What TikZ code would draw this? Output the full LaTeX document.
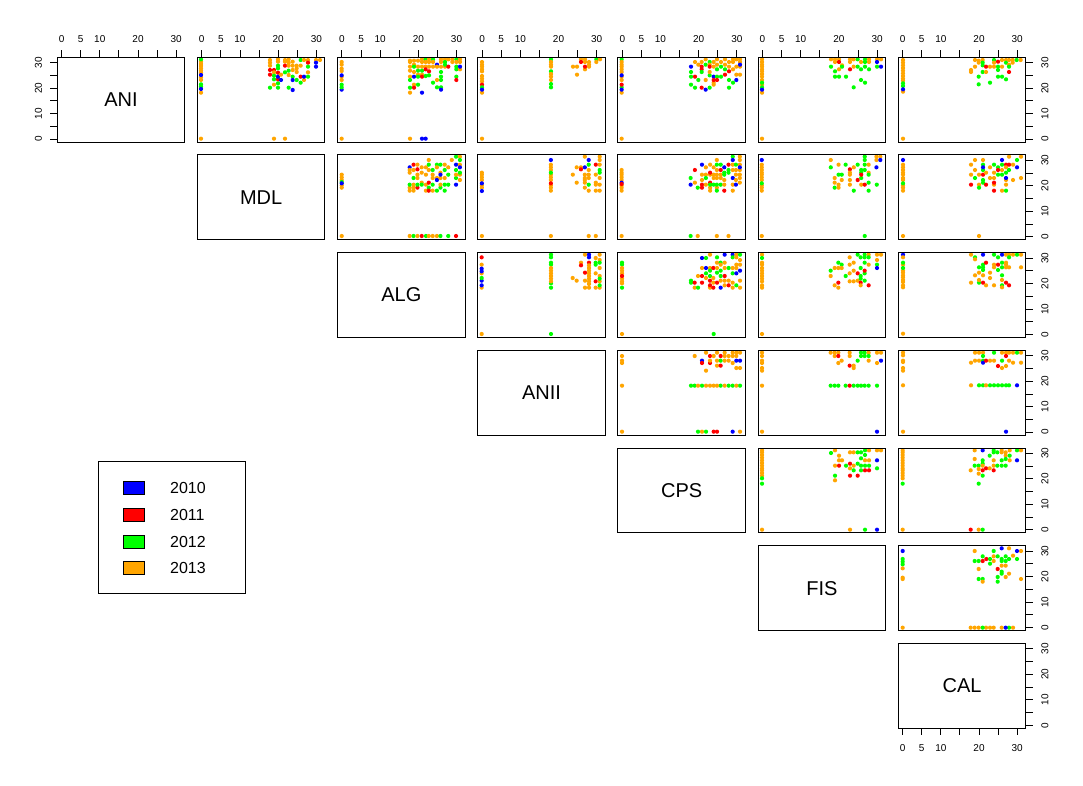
\documentclass[tikz,border=0pt]{standalone}
\usepackage{fontspec}
\setmainfont{Liberation Sans}
\definecolor{cB}{RGB}{0,0,255}
\definecolor{cR}{RGB}{255,0,0}
\definecolor{cG}{RGB}{0,255,0}
\definecolor{cO}{RGB}{255,165,0}
\newcommand\vc[3]{\foreach \yy in {#3}{\fill[#1] (#2,\yy) circle[radius=2.1pt];}}
\newcommand\hr[3]{\foreach \xx in {#3}{\fill[#1] (\xx,#2) circle[radius=2.1pt];}}
\tikzset{
  axl/.style={line width=0.9pt},
  panelbox/.style={draw=black,line width=1pt},
  tick/.style={inner sep=0pt,font=\fontsize{10}{12}\selectfont},
  plabel/.style={inner sep=0pt,font=\fontsize{20}{24}\selectfont},
  legtext/.style={inner sep=0pt,anchor=west,font=\fontsize{16}{19}\selectfont},
  swatch/.style={draw=black,line width=0.8pt},
  zoomsc/.style={x=0.333333pt,y=-0.333333pt}
}
\begin{document}
\begin{tikzpicture}[x=1pt,y=-1pt]
\useasboundingbox (0,0) rectangle (1083,786);
\fill[white] (0,0) rectangle (1083,786);

% ---------- points: row 1, col 2 ----------
\begin{scope}[shift={(190,50)},zoomsc]
\vc{cO}{33}{35,42,48,55,62,68,82,90,128,266}
\vc{cG}{33}{28,103,110}
\vc{cB}{33}{75,117}
\hr{cO}{266}{252,285}
\vc{cO}{240}{30,38,47} \vc{cR}{240}{60,74} \vc{cG}{240}{113}
\vc{cR}{252}{60} \vc{cO}{252}{67,104} \vc{cG}{252}{77,88}
\vc{cO}{264}{28,35} \vc{cG}{264}{47,55,100,113} \vc{cR}{264}{68,88} \vc{cB}{264}{80}
\vc{cO}{273}{74} \vc{cB}{273}{90}
\vc{cO}{285}{30,35} \vc{cR}{285}{47} \vc{cG}{285}{67}
\vc{cO}{296}{28,38,47,75} \vc{cG}{296}{62,113}
\vc{cO}{308}{35,47,60} \vc{cG}{308}{80} \vc{cB}{308}{90,120}
\vc{cO}{320}{47,55,66} \vc{cG}{320}{90}
\vc{cG}{332}{30,98} \vc{cO}{332}{47} \vc{cR}{332}{80}
\vc{cO}{342}{30,90} \vc{cB}{342}{80}
\vc{cO}{354}{30,67} \vc{cR}{354}{38} \vc{cG}{354}{50,80}
\vc{cO}{378}{30} \vc{cB}{378}{38,50} \vc{cO}{390}{30}
\end{scope}

% ---------- row 1, cols 3-5 ----------
\begin{scope}[shift={(335,52)},zoomsc]
\vc{cO}{20}{30,38,50,57,74,84,260} \vc{cB}{20}{70,113} \vc{cG}{20}{98,106}
\vc{cO}{225}{26,30,44,56,74,122,260} \vc{cG}{225}{84,107}
\vc{cO}{237}{26,38,60,98} \vc{cG}{237}{44} \vc{cB}{237}{74} \vc{cR}{237}{107}
\vc{cO}{249}{26,44,68} \vc{cG}{249}{56,74,98}
\vc{cO}{261}{22,30,44,68} \vc{cG}{261}{56} \vc{cR}{261}{74} \vc{cB}{261}{122,260}
\vc{cG}{272}{22,72} \vc{cO}{272}{30,44} \vc{cR}{272}{52} \vc{cB}{272}{260}
\vc{cO}{282}{22,30,44} \vc{cR}{282}{58} \vc{cG}{282}{70}
\vc{cG}{294}{22,92} \vc{cO}{294}{30,44}
\vc{cB}{306}{38} \vc{cO}{306}{44,84} \vc{cG}{306}{106}
\vc{cO}{318}{22,30,44} \vc{cG}{318}{60,74,84,106} \vc{cB}{318}{113}
\vc{cO}{330}{22,44} \vc{cG}{330}{30,38}
\vc{cO}{340}{22} \vc{cR}{340}{44}
\vc{cO}{352}{22,30}
\vc{cG}{364}{22,44,52,74} \vc{cO}{364}{30} \vc{cR}{364}{84}
\vc{cO}{375}{22,30,52} \vc{cB}{375}{44}
% col 4
\vc{cO}{441}{30,38,44,52,58,72,80,88,122,260} \vc{cR}{441}{98} \vc{cG}{441}{106} \vc{cB}{441}{113}
\vc{cG}{648}{22,58,96,106} \vc{cO}{648}{30,38,44,66,74,84}
\vc{cO}{714}{44} \vc{cO}{726}{44,68} \vc{cO}{738}{22} \vc{cR}{738}{30}
\vc{cO}{750}{22,30,52} \vc{cR}{750}{44} \vc{cO}{762}{30,38,44}
\vc{cG}{784}{22} \vc{cO}{784}{30} \vc{cO}{795}{22}
% col 5
\vc{cG}{860}{22,106} \vc{cO}{860}{30,38,44,52,60,74,84,122,260} \vc{cB}{860}{70,113} \vc{cR}{860}{98}
\vc{cB}{1068}{44} \vc{cG}{1068}{60,74,98}
\vc{cO}{1080}{30} \vc{cR}{1080}{74} \vc{cG}{1080}{107}
\vc{cO}{1090}{38} \vc{cG}{1090}{84}
\vc{cO}{1100}{30} \vc{cR}{1100}{44,52,107} \vc{cG}{1100}{60}
\vc{cO}{1112}{22,84} \vc{cG}{1112}{38} \vc{cB}{1112}{113}
\vc{cG}{1124}{30,70,107} \vc{cO}{1124}{38,60} \vc{cR}{1124}{44}
\vc{cO}{1136}{30,44,92,98} \vc{cB}{1136}{74} \vc{cR}{1136}{84}
\vc{cO}{1146}{22,38} \vc{cG}{1146}{52,74} \vc{cR}{1146}{84}
\vc{cO}{1158}{30} \vc{cG}{1158}{44,74}
\vc{cO}{1170}{22,38} \vc{cG}{1170}{52} \vc{cR}{1170}{68}
\vc{cO}{1182}{30,44} \vc{cR}{1182}{58} \vc{cG}{1182}{84,107}
\vc{cO}{1194}{22,30,52} \vc{cG}{1194}{92}
\vc{cO}{1204}{22,44,68} \vc{cB}{1204}{84}
\vc{cO}{1215}{22,30,44,68} \vc{cB}{1215}{38}
\end{scope}

% ---------- row 1, col 6 ----------
\begin{scope}[shift={(755,52)},zoomsc]
\vc{cO}{21}{22,30,38,44,52,58,66,74,84,98,122,260} \vc{cG}{21}{92,106} \vc{cB}{21}{113}
\vc{cO}{228}{22} \vc{cG}{228}{44}
\vc{cO}{240}{22,30} \vc{cG}{240}{58,74}
\vc{cO}{252}{22,52} \vc{cR}{252}{30} \vc{cG}{252}{74}
\vc{cO}{261}{40} \vc{cG}{261}{44}
\vc{cG}{273}{74}
\vc{cO}{285}{22,30} \vc{cR}{285}{52}
\vc{cO}{296}{22,44} \vc{cG}{296}{106}
\vc{cG}{308}{22,44}
\vc{cO}{318}{30} \vc{cG}{318}{52,84}
\vc{cG}{330}{22,30,44,92}
\vc{cO}{342}{22,30} \vc{cG}{342}{52}
\vc{cO}{366}{22} \vc{cB}{366}{30} \vc{cG}{366}{44}
\vc{cO}{378}{22} \vc{cB}{378}{44}
\end{scope}

% ---------- row 1, col 7 ----------
\begin{scope}[shift={(880,30)},zoomsc]
\vc{cO}{69}{90,98,106,114,122,130,138,146,152,185,326} \vc{cG}{69}{160,168} \vc{cB}{69}{178}
\vc{cO}{273}{120,126}
\vc{cO}{285}{90,110}
\vc{cO}{296}{92,98} \vc{cG}{296}{140,163}
\vc{cO}{308}{90} \vc{cG}{308}{98,106,126}
\vc{cR}{318}{110} \vc{cO}{318}{126}
\vc{cO}{330}{110} \vc{cG}{330}{158}
\vc{cG}{342}{90} \vc{cO}{342}{98,110}
\vc{cR}{354}{95} \vc{cG}{354}{110,120,140}
\vc{cO}{366}{90,110} \vc{cG}{366}{140}
\vc{cO}{378}{90} \vc{cG}{378}{98,148}
\vc{cO}{387}{90,104} \vc{cG}{387}{110} \vc{cR}{387}{126}
\vc{cO}{398}{90,98}
\vc{cG}{410}{90} \vc{cO}{422}{90}
\end{scope}

% ---------- row 2, cols 3-6 ----------
\begin{scope}[shift={(335,150)},x=0.35386pt,y=-0.333333pt]
\vc{cO}{19}{74,82,90,106,113,258} \vc{cG}{19}{96} \vc{cB}{19}{100}
\vc{cB}{211}{52} \vc{cO}{211}{60,68,113,122,258} \vc{cG}{211}{104}
\vc{cR}{222}{44} \vc{cO}{222}{60,104,113,122} \vc{cG}{222}{84,258}
\vc{cO}{233}{44,74,84,258} \vc{cR}{233}{58,113} \vc{cG}{233}{104}
\vc{cO}{245}{52,68,98} \vc{cG}{245}{104} \vc{cR}{245}{258}
\vc{cO}{257}{52,74,104,122} \vc{cG}{257}{258}
\vc{cO}{265}{30,60,258} \vc{cG}{265}{44,113} \vc{cR}{265}{98,122}
\vc{cG}{276}{60,104} \vc{cO}{276}{74,84,122,258}
\vc{cG}{288}{44,122} \vc{cO}{288}{52,84,258} \vc{cB}{288}{90}
\vc{cG}{298}{44,113,258} \vc{cO}{298}{68,84,104} \vc{cB}{298}{74}
\vc{cO}{310}{44,84} \vc{cG}{310}{60,104,122}
\vc{cO}{320}{52} \vc{cG}{320}{74,104,258}
\vc{cO}{330}{30}
\vc{cG}{342}{20,60,84} \vc{cB}{342}{44,104} \vc{cO}{342}{74} \vc{cR}{342}{258}
\vc{cO}{353}{20,44,74,90} \vc{cG}{353}{30,68} \vc{cB}{353}{52}
% col 4
\vc{cO}{415}{68,74,82,90,106,113,258} \vc{cB}{415}{100,123}
\vc{cB}{610}{30} \vc{cO}{610}{44,52,60,74,82,90,106,113,122,258} \vc{cG}{610}{68} \vc{cR}{610}{100}
\vc{cO}{672}{74}
\vc{cO}{683}{52,98}
\vc{cO}{695}{52} \vc{cR}{695}{58}
\vc{cO}{706}{20,74,84,90,98,113} \vc{cB}{706}{52}
\vc{cB}{717}{30} \vc{cG}{717}{44,104} \vc{cO}{717}{60,74,84,122,258}
\vc{cR}{737}{44} \vc{cO}{737}{74,98,104,122,258}
\vc{cO}{748}{20,30,44,84,104,122} \vc{cG}{748}{60,68}
% col 5
\vc{cO}{810}{60,68,74,82,90,106,113,122,258} \vc{cB}{810}{98} \vc{cR}{810}{102}
\vc{cG}{1005}{84,258} \vc{cB}{1005}{104}
\vc{cR}{1017}{60} \vc{cO}{1017}{98}
\vc{cG}{1025}{113} \vc{cO}{1025}{258}
\vc{cB}{1037}{44} \vc{cO}{1037}{74,90} \vc{cR}{1037}{104,113}
\vc{cO}{1048}{52,74,104} \vc{cG}{1048}{84}
\vc{cO}{1060}{44,74,113,122} \vc{cR}{1060}{68,98} \vc{cG}{1060}{104}
\vc{cO}{1070}{52,74,84} \vc{cG}{1070}{104}
\vc{cO}{1079}{30,60,74,84,113,258} \vc{cG}{1079}{44,104,122}
\vc{cG}{1090}{44,104} \vc{cR}{1090}{60} \vc{cO}{1090}{74,84}
\vc{cB}{1100}{52} \vc{cG}{1100}{68,74} \vc{cO}{1100}{90,104} \vc{cR}{1100}{122}
\vc{cR}{1112}{44} \vc{cG}{1112}{60,68} \vc{cO}{1112}{258}
\vc{cG}{1124}{20} \vc{cB}{1124}{30,84} \vc{cO}{1124}{44,60,104,122}
\vc{cG}{1133}{44} \vc{cO}{1133}{60,74,90} \vc{cB}{1133}{104}
\vc{cO}{1144}{20,30,44,60,74,84,98} \vc{cB}{1144}{52}
% col 6
\vc{cB}{1206}{30} \vc{cO}{1206}{44,52,60,68,74,82,90,106,113,122,258} \vc{cG}{1206}{100}
\vc{cO}{1401}{30} \vc{cG}{1401}{52}
\vc{cO}{1412}{84,98} \vc{cG}{1412}{113}
\vc{cO}{1423}{44,104,113} \vc{cG}{1423}{74}
\vc{cG}{1432}{74} \vc{cO}{1432}{90}
\vc{cG}{1443}{44}
\vc{cR}{1455}{58} \vc{cO}{1455}{68,74,90,104}
\vc{cO}{1466}{52} \vc{cG}{1466}{122}
\vc{cG}{1477}{44} \vc{cR}{1477}{90}
\vc{cG}{1487}{60,68,84} \vc{cR}{1487}{74} \vc{cO}{1487}{104}
\vc{cG}{1497}{20,30,44,60,258} \vc{cR}{1497}{104}
\vc{cO}{1508}{44,68} \vc{cG}{1508}{74,98,122}
\vc{cO}{1530}{20,30} \vc{cB}{1530}{52} \vc{cG}{1531}{104}
\vc{cO}{1541}{20} \vc{cB}{1541}{30}
\end{scope}

% ---------- col 7, rows 2-4 ----------
\begin{scope}[shift={(895,150)},zoomsc]
\vc{cB}{24}{30} \vc{cO}{24}{44,52,60,68,74,84,90,106,113,122,258} \vc{cG}{24}{100}
\vc{cO}{228}{44,74} \vc{cR}{228}{104}
\vc{cO}{240}{30,60} \vc{cG}{240}{84}
\vc{cO}{252}{74,104,258} \vc{cG}{252}{113}
\vc{cO}{264}{30} \vc{cG}{264}{44,60,90,98} \vc{cB}{264}{52} \vc{cR}{264}{74}
\vc{cO}{273}{68} \vc{cR}{273}{104}
\vc{cO}{285}{52,84}
\vc{cG}{297}{44} \vc{cO}{297}{68,84,104} \vc{cR}{297}{98,122}
\vc{cG}{309}{52,74} \vc{cR}{309}{60}
\vc{cB}{321}{30} \vc{cG}{321}{44,74} \vc{cO}{321}{60,122}
\vc{cR}{333}{44} \vc{cO}{333}{52,90,104} \vc{cG}{333}{68,122} \vc{cB}{333}{84}
\vc{cO}{342}{20} \vc{cR}{342}{44} \vc{cG}{342}{60}
\vc{cO}{354}{44,90}
\vc{cG}{366}{30} \vc{cB}{366}{52}
\vc{cO}{378}{20,84}
% row 3
\vc{cB}{24}{314} \vc{cO}{24}{322,344,362,368,376,382,390,396,406,412,551} \vc{cG}{24}{338,354}
\vc{cO}{228}{314,398}
\vc{cG}{240}{322} \vc{cO}{240}{328,376}
\vc{cG}{252}{352,398} \vc{cO}{252}{368,390}
\vc{cB}{264}{314} \vc{cG}{264}{344,352,360} \vc{cO}{264}{376} \vc{cR}{264}{398}
\vc{cR}{273}{338} \vc{cO}{273}{406}
\vc{cO}{285}{368,384}
\vc{cG}{297}{314} \vc{cO}{297}{344,352,406}
\vc{cG}{309}{322,360} \vc{cR}{309}{344}
\vc{cB}{321}{314} \vc{cG}{321}{338,352,376,406} \vc{cO}{321}{390,412}
\vc{cO}{333}{314,338,344,352} \vc{cR}{333}{398}
\vc{cO}{342}{314,352} \vc{cG}{342}{322} \vc{cR}{342}{406}
\vc{cO}{354}{314} \vc{cG}{366}{314} \vc{cO}{378}{314,352}
% row 4
\vc{cO}{24}{608,616,632,636,654,662,706,845}
\vc{cO}{228}{638,706}
\vc{cO}{240}{608,632}
\vc{cO}{252}{608,632} \vc{cG}{252}{706}
\vc{cO}{264}{608} \vc{cG}{264}{618,632,706} \vc{cB}{264}{638}
\vc{cR}{273}{632} \vc{cO}{273}{706}
\vc{cO}{285}{632} \vc{cG}{285}{706}
\vc{cG}{297}{608,706} \vc{cO}{297}{632}
\vc{cR}{309}{648} \vc{cG}{309}{706}
\vc{cO}{321}{608,654} \vc{cG}{321}{632,706}
\vc{cO}{333}{608,648} \vc{cR}{333}{618} \vc{cG}{333}{706} \vc{cB}{333}{845}
\vc{cO}{342}{608,632} \vc{cG}{342}{706}
\vc{cO}{354}{608,638}
\vc{cG}{366}{608} \vc{cB}{366}{706}
\vc{cO}{378}{608,638}
\end{scope}

% ---------- rows 3-4, cols 4-6 ----------
\begin{scope}[shift={(475,248)},zoomsc]
\vc{cR}{20}{28} \vc{cO}{20}{50,76,119,258} \vc{cB}{20}{62,70,98,112} \vc{cG}{20}{90}
\vc{cG}{228}{20,28,44,50,106,119,258} \vc{cO}{228}{60,68,76,84,92,100}
\vc{cO}{293}{90} \vc{cO}{305}{98}
\vc{cO}{318}{44} \vc{cR}{318}{52}
\vc{cO}{330}{20,98,119} \vc{cR}{330}{74}
\vc{cB}{342}{20,28} \vc{cR}{342}{44} \vc{cO}{342}{52,60,68,76,84,92,100,108,119}
\vc{cO}{362}{30,76,119} \vc{cG}{362}{44,50} \vc{cR}{362}{100}
\vc{cO}{374}{20,36,60,84,100,119} \vc{cG}{374}{44,92,112}
% row 3 col 5
\vc{cG}{441}{44,50,119} \vc{cO}{441}{60,68,76,92,100,106,258} \vc{cR}{441}{84}
\vc{cG}{648}{98,104}
\vc{cR}{659}{104} \vc{cO}{659}{119}
\vc{cO}{669}{84} \vc{cG}{669}{119}
\vc{cB}{681}{30} \vc{cO}{681}{60} \vc{cR}{681}{84,104}
\vc{cG}{693}{30,76} \vc{cB}{693}{60} \vc{cO}{693}{90}
\vc{cO}{705}{20,60,119} \vc{cG}{705}{68,84} \vc{cR}{705}{98,112}
\vc{cR}{715}{60,119} \vc{cO}{715}{90,104} \vc{cG}{716}{258}
\vc{cG}{726}{28,74} \vc{cO}{726}{44,60} \vc{cR}{726}{104}
\vc{cG}{737}{44,68,84} \vc{cO}{737}{50,98} \vc{cB}{737}{119}
\vc{cB}{749}{20} \vc{cO}{749}{44,60,98,112} \vc{cR}{749}{84}
\vc{cG}{761}{60} \vc{cO}{761}{98} \vc{cR}{761}{112}
\vc{cB}{773}{20} \vc{cG}{773}{28,76} \vc{cO}{773}{60,104,119}
\vc{cO}{784}{20,28,50,60} \vc{cB}{784}{76} \vc{cG}{784}{112}
\vc{cG}{795}{20} \vc{cO}{795}{36,50,98,119} \vc{cB}{795}{68}
% row 3 col 6
\vc{cO}{861}{20,44,50,60,68,76,84,92,100,112,119,258} \vc{cG}{861}{30}
\vc{cG}{1067}{68} \vc{cO}{1067}{84}
\vc{cO}{1079}{60,112}
\vc{cG}{1090}{44} \vc{cO}{1090}{60,119} \vc{cR}{1090}{104}
\vc{cG}{1100}{50} \vc{cO}{1100}{60}
\vc{cG}{1112}{84}
\vc{cO}{1124}{28,50,76,100}
\vc{cO}{1136}{44,68,100}
\vc{cG}{1148}{20} \vc{cR}{1148}{76} \vc{cO}{1148}{98}
\vc{cG}{1157}{28,60,84,92} \vc{cR}{1157}{104} \vc{cO}{1157}{112}
\vc{cG}{1169}{20,28,44,76,98} \vc{cR}{1169}{68}
\vc{cO}{1181}{20,50} \vc{cG}{1181}{28} \vc{cR}{1181}{112}
\vc{cO}{1206}{20,36} \vc{cG}{1206}{50} \vc{cB}{1206}{60}
\vc{cO}{1218}{20}
% row 4 col 5
\vc{cO}{441}{324,338,345,413,551}
\hr{cG}{413}{648,659,681,737,761,773,795} \hr{cO}{413}{669,693,705,716,726,749,784}
\vc{cO}{659}{324}
\vc{cB}{681}{338} \vc{cR}{681}{345}
\vc{cO}{693}{314,368}
\vc{cR}{705}{324,345} \vc{cO}{705}{338}
\vc{cO}{716}{324}
\vc{cO}{726}{314,338,353}
\vc{cR}{737}{324,353} \vc{cG}{737}{338}
\vc{cO}{749}{314,324,338}
\vc{cO}{761}{324,338}
\vc{cO}{773}{314,324,345}
\vc{cO}{784}{314,324,360} \vc{cB}{784}{338}
\vc{cO}{795}{314,360} \vc{cB}{795}{338}
\hr{cG}{551}{669,693} \hr{cO}{551}{681,795} \hr{cR}{551}{716,726} \hr{cB}{551}{773}
% row 4 col 6
\vc{cO}{861}{314,324,338,345,360,368,413,551}
\vc{cO}{1067}{314}
\vc{cO}{1079}{314,324}
\vc{cO}{1090}{314,345} \vc{cR}{1090}{324}
\vc{cO}{1100}{338}
\vc{cO}{1124}{314,324} \vc{cR}{1124}{353}
\vc{cO}{1136}{353,360}
\vc{cG}{1148}{338}
\vc{cG}{1158}{314,324}
\vc{cG}{1169}{314,324}
\vc{cO}{1181}{314,338} \vc{cG}{1181}{324}
\vc{cO}{1206}{314,345}
\vc{cO}{1218}{314} \vc{cB}{1218}{338}
\hr{cG}{413}{1067,1079,1090,1112,1136,1148,1158,1169,1181,1206} \hr{cR}{413}{1124}
\vc{cB}{1206}{551}
\end{scope}

% ---------- rows 5-6, cols 6-7 ----------
\begin{scope}[shift={(755,445)},zoomsc]
\vc{cO}{21}{16,22,30,38,46,54,62,70,76,84,92,254} \vc{cG}{21}{100,116}
\vc{cG}{228}{24}
\vc{cO}{240}{16,62,106} \vc{cG}{240}{92}
\vc{cO}{252}{32,46} \vc{cR}{252}{62}
\vc{cO}{261}{46}
\vc{cG}{273}{62}
\vc{cO}{285}{22,70,254} \vc{cR}{285}{56,92}
\vc{cO}{296}{22,62} \vc{cG}{296}{76}
\vc{cG}{308}{22,56} \vc{cR}{308}{92}
\vc{cG}{318}{22,40,62,76}
\vc{cG}{330}{16,30,62,254} \vc{cO}{330}{46} \vc{cR}{330}{76}
\vc{cO}{342}{16,46} \vc{cG}{342}{62} \vc{cR}{342}{76}
\vc{cO}{366}{16} \vc{cB}{366}{46,254} \vc{cG}{366}{70}
\vc{cO}{378}{16}
% row 5 col 7
\vc{cO}{443}{16,22,30,38,46,54,62,70,76,84,92,100,254} \vc{cG}{443}{116}
\vc{cO}{647}{76} \vc{cR}{647}{254}
\vc{cO}{659}{16,42} \vc{cG}{659}{62}
\vc{cG}{671}{62,116} \vc{cO}{671}{72,86,254}
\vc{cB}{683}{16} \vc{cG}{683}{46,56,92,254} \vc{cO}{683}{62} \vc{cR}{683}{76}
\vc{cR}{693}{70}
\vc{cG}{704}{32} \vc{cO}{704}{70}
\vc{cG}{716}{16,22} \vc{cO}{716}{46,62} \vc{cR}{716}{76}
\vc{cG}{727}{22,62}
\vc{cO}{740}{16,22} \vc{cG}{740}{46,62}
\vc{cO}{752}{22,32} \vc{cG}{752}{42,62}
\vc{cO}{764}{16,46} \vc{cG}{764}{32}
\vc{cG}{786}{16} \vc{cB}{786}{46}
\vc{cO}{798}{16}
% row 6 col 7
\vc{cB}{443}{318} \vc{cG}{443}{342,350,358} \vc{cO}{443}{370,398,402,548}
\vc{cO}{659}{318} \vc{cG}{659}{348}
\vc{cG}{671}{348,402} \vc{cO}{671}{372}
\vc{cG}{683}{334,402} \vc{cR}{683}{348} \vc{cO}{683}{410}
\vc{cR}{694}{342}
\vc{cG}{705}{342,356}
\vc{cG}{716}{318} \vc{cO}{716}{334,348}
\vc{cG}{728}{334,396,410} \vc{cR}{728}{372}
\vc{cB}{740}{310} \vc{cG}{740}{342,348,380,386} \vc{cO}{740}{362}
\vc{cG}{752}{334,348} \vc{cO}{752}{362,396}
\vc{cO}{762}{310,386} \vc{cG}{762}{342}
\vc{cO}{774}{332}
\vc{cB}{786}{318} \vc{cG}{786}{342}
\vc{cO}{798}{318,402}
\hr{cO}{548}{647,659,671,693,705,716,740,774} \hr{cG}{548}{683,762} \hr{cB}{548}{752}
\end{scope}

% ---------- panel boxes (upper triangle incl. diagonal) ----------
\foreach \r in {0,...,6}{
  \foreach \c in {\r,...,6}{
    \draw[panelbox] ({57.3+140.17*\c},{57.3+97.7*\r}) rectangle ++(127.4,84.8);
  }
}

% ---------- diagonal labels ----------
\foreach \i/\t in {0/ANI,1/MDL,2/ALG,3/ANII,4/CPS,5/FIS,6/CAL}{
  \node[plabel] (lab\i) at ({57.3+140.17*\i+63.7},{57.3+97.7*\i+42.4}) {\t};
}

% ---------- top axes ----------
\foreach \c in {0,...,6}{
  \pgfmathsetmacro\L{57.3+140.17*\c}
  \foreach \v in {0,5,...,30}{\draw[axl] ({\L+4.3+3.82*\v},57.3) -- ++(0,-7);}
  \foreach \v in {0,5,10,20,30}{\node[tick] at ({\L+4.3+3.82*\v},38.7) {\v};}
}
% ---------- bottom axis (CAL) ----------
\foreach \v in {0,5,...,30}{\draw[axl] ({898.3+4.3+3.82*\v},728.1) -- ++(0,7);}
\foreach \v in {0,5,10,20,30}{\node[tick] at ({898.3+4.3+3.82*\v},748) {\v};}

% ---------- right axes ----------
\foreach \r in {0,...,6}{
  \pgfmathsetmacro\B{57.3+97.7*\r+84.8}
  \foreach \v in {0,5,...,30}{\draw[axl] (1025.7,{\B-3-2.55*\v}) -- ++(7,0);}
  \foreach \v in {0,10,20,30}{\node[tick,rotate=90] at (1045,{\B-3-2.55*\v}) {\v};}
}
% ---------- left axis (ANI) ----------
\foreach \v in {0,5,...,30}{\draw[axl] (57.3,{142.1-3-2.55*\v}) -- ++(-7,0);}
\foreach \v in {0,10,20,30}{\node[tick,rotate=90] at (38.5,{142.1-3-2.55*\v}) {\v};}

% ---------- legend ----------
\draw[line width=1pt] (98.3,461) rectangle (245.3,593.7);
\foreach \y/\col/\t in {488.3/cB/2010,514.8/cR/2011,541.5/cG/2012,568.2/cO/2013}{
  \filldraw[swatch,fill=\col] (123.3,{\y-6.5}) rectangle (144.3,{\y+6.5});
  \node[legtext] (leg\t) at (170,\y) {\t};
}
\end{tikzpicture}
\end{document}
